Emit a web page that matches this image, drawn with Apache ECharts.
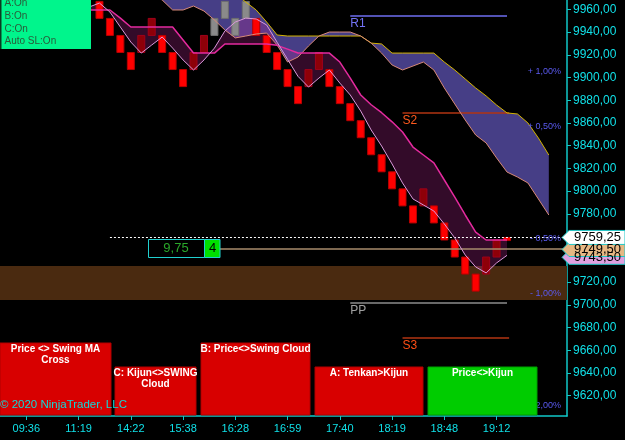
<!DOCTYPE html>
<html>
<head>
<meta charset="utf-8">
<script src="https://cdn.jsdelivr.net/npm/echarts@6/dist/echarts.min.js"></script>
<style>
  html, body { margin: 0; padding: 0; background: #000; }
  #chart-container { width: 625px; height: 440px; }
</style>
</head>
<body>
<div id="chart-container"></div>
<script>
// x ticks (brick index -> session time)
const timeTickIdx = [-7, -2, 3, 8, 13, 18, 23, 28, 33, 38];
const timeLabels = ['09:36', '11:19', '14:22', '15:38', '16:28', '16:59', '17:40', '18:19', '18:48', '19:12'];
const priceTicks = [9620, 9640, 9660, 9680, 9700, 9720, 9740, 9760, 9780, 9800, 9820, 9840, 9860, 9880, 9900, 9920, 9940, 9960];

// renko bricks, index 0..39 ; kind 0 = down, 1 = up, 2 = neutral
const brickTop = [9967, 9952, 9937, 9922, 9937, 9952, 9937, 9922, 9907, 9922, 9937, 9952, 9967, 9952, 9967, 9952, 9937, 9922, 9907, 9892,
  9907, 9922, 9907, 9892, 9877, 9862, 9847, 9832, 9817, 9802, 9787, 9802, 9787, 9772, 9757, 9742, 9727, 9742, 9757, 9759.25];
const brickBottom = [9952, 9937, 9922, 9907, 9922, 9937, 9922, 9907, 9892, 9907, 9922, 9937, 9952, 9937, 9952, 9937, 9922, 9907, 9892, 9877,
  9892, 9907, 9892, 9877, 9862, 9847, 9832, 9817, 9802, 9787, 9772, 9787, 9772, 9757, 9742, 9727, 9712, 9727, 9742, 9756.5];
const brickKind = [0, 0, 0, 0, 1, 1, 0, 0, 0, 1, 1, 2, 2, 2, 2, 0, 0, 0, 0, 0,
  1, 1, 0, 0, 0, 0, 0, 0, 0, 0, 0, 1, 0, 0, 0, 0, 0, 1, 1, 0];

// swing MA pair, index -1..39
const swingStart = -1;
const kijun = [9959.4, 9959.4, 9959.4, 9952.2, 9944.4, 9944.4, 9944.4, 9944.4, 9944.4, 9933.0, 9921.5, 9921.5, 9921.5, 9929.5,
  9929.5, 9929.5, 9929.5, 9929.5, 9928.3, 9925.0, 9921.5, 9921.5, 9921.5, 9921.5, 9913.6, 9899.5, 9884.6, 9876.0, 9869.0,
  9861.0, 9852.0, 9838.8, 9831.8, 9824.8, 9809.8, 9794.8, 9779.0, 9764.0, 9757.0, 9757.0, 9757.0];
const tenkan = [9962.0, 9965.5, 9957.6, 9944.4, 9931.2, 9921.5, 9928.6, 9935.6, 9925.9, 9915.4, 9906.6, 9915.4, 9925.9, 9940.9,
  9948.8, 9952.3, 9951.5, 9946.2, 9931.0, 9916.0, 9901.0, 9891.6, 9899.5, 9906.6, 9895.1, 9884.6, 9870.5, 9853.8, 9839.7,
  9823.9, 9807.2, 9793.1, 9787.8, 9782.5, 9771.1, 9758.8, 9743.8, 9733.3, 9728.0, 9736.8, 9743.5];

// swing cloud, index 4..43
const cloudStart = 4;
const spanA = [9985.8, 9973.5, 9968.2, 9959.4, 9959.4, 9962.9, 9958.5, 9950.6, 9941.8, 9934.8, 9936.5, 9938.3, 9939.1, 9928.6,
  9913.6, 9918.0, 9927.7, 9936.5, 9940.0, 9940.0, 9940.0, 9936.5, 9930.3, 9921.5, 9911.0, 9906.6, 9910.1, 9913.6, 9906.6,
  9890.8, 9876.7, 9862.6, 9849.4, 9842.4, 9829.2, 9816.8, 9812.4, 9807.2, 9793.1, 9779.0];
const spanB = [9990, 9990, 9990, 9990, 9990, 9990, 9990, 9990, 9979.6, 9973.5, 9966.4, 9959.4, 9948.8, 9937.4,
  9936.5, 9936.5, 9936.5, 9936.5, 9936.5, 9936.5, 9936.5, 9936.5, 9930.3, 9929.5, 9921.5, 9921.5, 9921.5, 9921.5, 9921.5,
  9913.6, 9906.6, 9898.7, 9890.8, 9883.8, 9875.8, 9868.8, 9867.9, 9860.0, 9846.8, 9831.8];

// pivots
const pivotNames = ['R1', 'S2', 'PP', 'S3'];
const pivotPrices = [9954.1, 9869.4, 9702.2, 9671.0];
const pivotFrom = [24, 29, 24, 29];
const pivotTo = [39, 39.2, 39, 39.2];
const pivotColors = ['#7373f5', '#ff5a1e', '#a0a0a0', '#ff4e14'];
const pivotLineColors = ['#6e6ef0', '#b23412', '#8c8c8c', '#b23412'];

const pctPrices = [9905.7, 9856.6, 9758.6, 9709.5, 9611.5];
const pctLabels = ['+ 1,00%', '+ 0,50%', '- 0,50%', '- 1,00%', '- 2,00%'];

const lastPrice = 9759.25;
const avgPrice = 9749.5;
const zoneHigh = 9734.1;
const zoneLow = 9704.2;

const signalBoxes = [
  { x: 0, y: 343, w: 111, h: 72, color: '#d80000', lines: ['Price <> Swing MA', 'Cross'] },
  { x: 115, y: 367, w: 81, h: 48, color: '#d80000', lines: ['C: Kijun<>SWING', 'Cloud'] },
  { x: 201, y: 343, w: 109, h: 72, color: '#d80000', lines: ['B: Price<>Swing Cloud'] },
  { x: 315, y: 367, w: 108, h: 48, color: '#d80000', lines: ['A: Tenkan>Kijun'] },
  { x: 428, y: 367, w: 109, h: 48, color: '#00cc00', lines: ['Price<>Kijun'] }
];

const fmt = v => v.toFixed(2).replace('.', ',');
const pairs = (start, arr) => arr.map((v, k) => [start + k, v]);

const chartContainer = document.getElementById('chart-container');
const myChart = echarts.init(chartContainer);

const brickData = brickTop.map((t, i) => [i, t, brickBottom[i], brickKind[i]]);
const brickFill = ['#ff0000', '#8e0008', '#8a8a8a'];
const brickStroke = ['#b80000', '#a0001a', '#6e6e6e'];

function bandItem(upperStart, upper, lowerStart, lower, fill) {
  return function (params, api) {
    const pts = upper.map((v, k) => api.coord([upperStart + k, v]));
    for (let k = lower.length - 1; k >= 0; k--) pts.push(api.coord([lowerStart + k, lower[k]]));
    return { type: 'polygon', shape: { points: pts }, style: { fill: fill }, silent: true };
  };
}

const pivotLines = pivotNames.map((n, k) => [
  {
    name: n,
    coord: [pivotFrom[k], pivotPrices[k]],
    lineStyle: { color: pivotLineColors[k], width: 1.5, type: 'solid' },
    label: { show: true, formatter: n, position: 'insideStartBottom', color: pivotColors[k], fontSize: 12, distance: [0, 2], fontFamily: 'Liberation Sans, Arial' }
  },
  { coord: [pivotTo[k], pivotPrices[k]] }
]);

const options = {
  backgroundColor: '#000000',
  animation: false,
  grid: { left: 0, right: 58, top: 0, bottom: 24 },
  xAxis: {
    type: 'value',
    min: -9.52,
    max: 44.74,
    axisLine: { show: true, onZero: false, lineStyle: { color: '#10c8c8', width: 1.5 } },
    axisTick: { show: true, customValues: timeTickIdx, length: 4, lineStyle: { color: '#10c8c8' } },
    axisLabel: {
      customValues: timeTickIdx,
      formatter: v => timeLabels[timeTickIdx.indexOf(Math.round(v))],
      color: '#10e0e8', fontSize: 11, margin: 7, fontFamily: 'Liberation Sans, Arial'
    },
    splitLine: { show: false }
  },
  yAxis: {
    type: 'value',
    position: 'right',
    min: 9602.1,
    max: 9968.2,
    axisLine: { show: true, onZero: false, lineStyle: { color: '#10c8c8', width: 1.5 } },
    axisTick: { show: true, customValues: priceTicks, length: 4, lineStyle: { color: '#10c8c8' } },
    axisLabel: { customValues: priceTicks, formatter: fmt, color: '#10e0e8', fontSize: 12, margin: 6, fontFamily: 'Liberation Sans, Arial' },
    splitLine: { show: false }
  },
  series: [
    {
      name: 'zone', type: 'line', data: [], z: 1,
      markArea: { silent: true, itemStyle: { color: '#4a2a10' }, data: [[{ xAxis: -9.52, yAxis: zoneHigh }, { xAxis: 44.74, yAxis: zoneLow }]] }
    },
    { name: 'cloud', type: 'custom', z: 2, data: [[0, 9800]], renderItem: bandItem(cloudStart, spanB, cloudStart, spanA, '#463e86') },
    { name: 'swingFill', type: 'custom', z: 3, data: [[0, 9800]], renderItem: bandItem(swingStart, kijun, swingStart, tenkan, 'rgba(190,40,150,0.27)') },
    {
      name: 'bricks', type: 'custom', z: 4, data: brickData,
      renderItem: function (params, api) {
        const i = api.value(0);
        const p1 = api.coord([i, api.value(1)]);
        const p2 = api.coord([i, api.value(2)]);
        const kind = api.value(3);
        return {
          type: 'rect',
          shape: { x: p1[0] - 3.5, y: p1[1], width: 7, height: p2[1] - p1[1] },
          style: { fill: brickFill[kind], stroke: brickStroke[kind], lineWidth: 1 }
        };
      }
    },
    { name: 'spanB', type: 'line', z: 5, data: pairs(cloudStart, spanB), showSymbol: false, lineStyle: { color: '#d4b400', width: 1 } },
    { name: 'spanA', type: 'line', z: 5, data: pairs(cloudStart, spanA), showSymbol: false, lineStyle: { color: '#d88a78', width: 1 } },
    { name: 'kijun', type: 'line', z: 6, data: pairs(swingStart, kijun), showSymbol: false, lineStyle: { color: '#e42a9e', width: 1.5 } },
    { name: 'tenkan', type: 'line', z: 6, data: pairs(swingStart, tenkan), showSymbol: false, lineStyle: { color: '#dc98dc', width: 1 } },
    {
      name: 'levels', type: 'line', data: [], z: 7,
      markLine: {
        silent: true, symbol: 'none',
        data: pivotLines.concat([
          [{ coord: [1, lastPrice], lineStyle: { color: '#ffffff', width: 1, type: [2, 2] }, label: { show: false } }, { coord: [44.74, lastPrice] }],
          [{ coord: [11.5, avgPrice], lineStyle: { color: '#a88c6c', width: 1.5, type: 'solid' }, label: { show: false } }, { coord: [44.74, avgPrice] }]
        ])
      }
    }
  ]
};

myChart.setOption(options);

// overlays placed from the price scale
const py = v => myChart.convertToPixel({ yAxisIndex: 0 }, v);
const graphics = [];

pctPrices.forEach((p, k) => {
  graphics.push({ type: 'text', x: 561, y: py(p), z: 20, style: { text: pctLabels[k], fill: '#5a5af0', font: '9px Liberation Sans, Arial', textAlign: 'right', textVerticalAlign: 'middle' } });
});

// position box
const ay = py(avgPrice);
graphics.push({ type: 'rect', shape: { x: 148.5, y: ay - 9, width: 56, height: 18 }, style: { fill: '#000', stroke: '#20d0d0', lineWidth: 1 }, z: 20 });
graphics.push({ type: 'text', x: 176, y: ay, style: { text: '9,75', fill: '#2aa82a', font: '13px Liberation Sans, Arial', textAlign: 'center', textVerticalAlign: 'middle' }, z: 21 });
graphics.push({ type: 'rect', shape: { x: 204.5, y: ay - 9, width: 15.5, height: 18 }, style: { fill: '#00e000', stroke: '#20d0d0', lineWidth: 1 }, z: 20 });
graphics.push({ type: 'text', x: 212.5, y: ay, style: { text: '4', fill: '#000', font: '13px Liberation Sans, Arial', textAlign: 'center', textVerticalAlign: 'middle' }, z: 21 });

// price tags on axis
function tag(yc, fill, text) {
  graphics.push({ type: 'polygon', shape: { points: [[562, yc], [569, yc - 7], [625, yc - 7], [625, yc + 7], [569, yc + 7]] }, style: { fill: fill, stroke: '#20c8c8', lineWidth: 1 }, z: 30 });
  graphics.push({ type: 'text', x: 574, y: yc, style: { text: text, fill: '#000', font: '13px Liberation Sans, Arial', textVerticalAlign: 'middle' }, z: 31 });
}
tag(py(tenkan[tenkan.length - 1]) + 2, '#e0a0e0', fmt(tenkan[tenkan.length - 1]));
tag(py(avgPrice) + 1, '#e6b884', fmt(avgPrice));
tag(py(lastPrice), '#ffffff', fmt(lastPrice));

// status panel
graphics.push({ type: 'rect', shape: { x: 0, y: 0, width: 91, height: 49 }, style: { fill: '#00f58c' }, z: 40 });
graphics.push({ type: 'rect', shape: { x: 0, y: 0, width: 1.5, height: 49 }, style: { fill: '#0a3a20' }, z: 41 });
['A:On', 'B:On', 'C:On', 'Auto SL:On'].forEach((t, k) => {
  graphics.push({ type: 'text', x: 4.5, y: 3 + k * 12.9, z: 41, style: { text: t, fill: '#2a5a3a', font: '10px Liberation Sans, Arial', textVerticalAlign: 'middle' } });
});

// signal panels
signalBoxes.forEach(b => {
  graphics.push({ type: 'rect', shape: { x: b.x, y: b.y, width: b.w, height: b.h }, style: { fill: b.color, stroke: b.color === '#00cc00' ? '#00a000' : '#b00000', lineWidth: 1 }, z: 40 });
  b.lines.forEach((t, k) => {
    graphics.push({ type: 'text', x: b.x + b.w / 2, y: b.y + 6.5 + k * 11, z: 41, style: { text: t, fill: '#ffffff', font: 'bold 10px Liberation Sans, Arial', textAlign: 'center', textVerticalAlign: 'middle' } });
  });
});

graphics.push({ type: 'text', x: 0, y: 405, z: 45, style: { text: '\u00a9 2020 NinjaTrader, LLC', fill: '#10d8d8', font: '11.5px Liberation Sans, Arial', textVerticalAlign: 'middle' } });

myChart.setOption({ graphic: graphics });

window.addEventListener('resize', function () {
  myChart.resize();
});
</script>
</body>
</html>
